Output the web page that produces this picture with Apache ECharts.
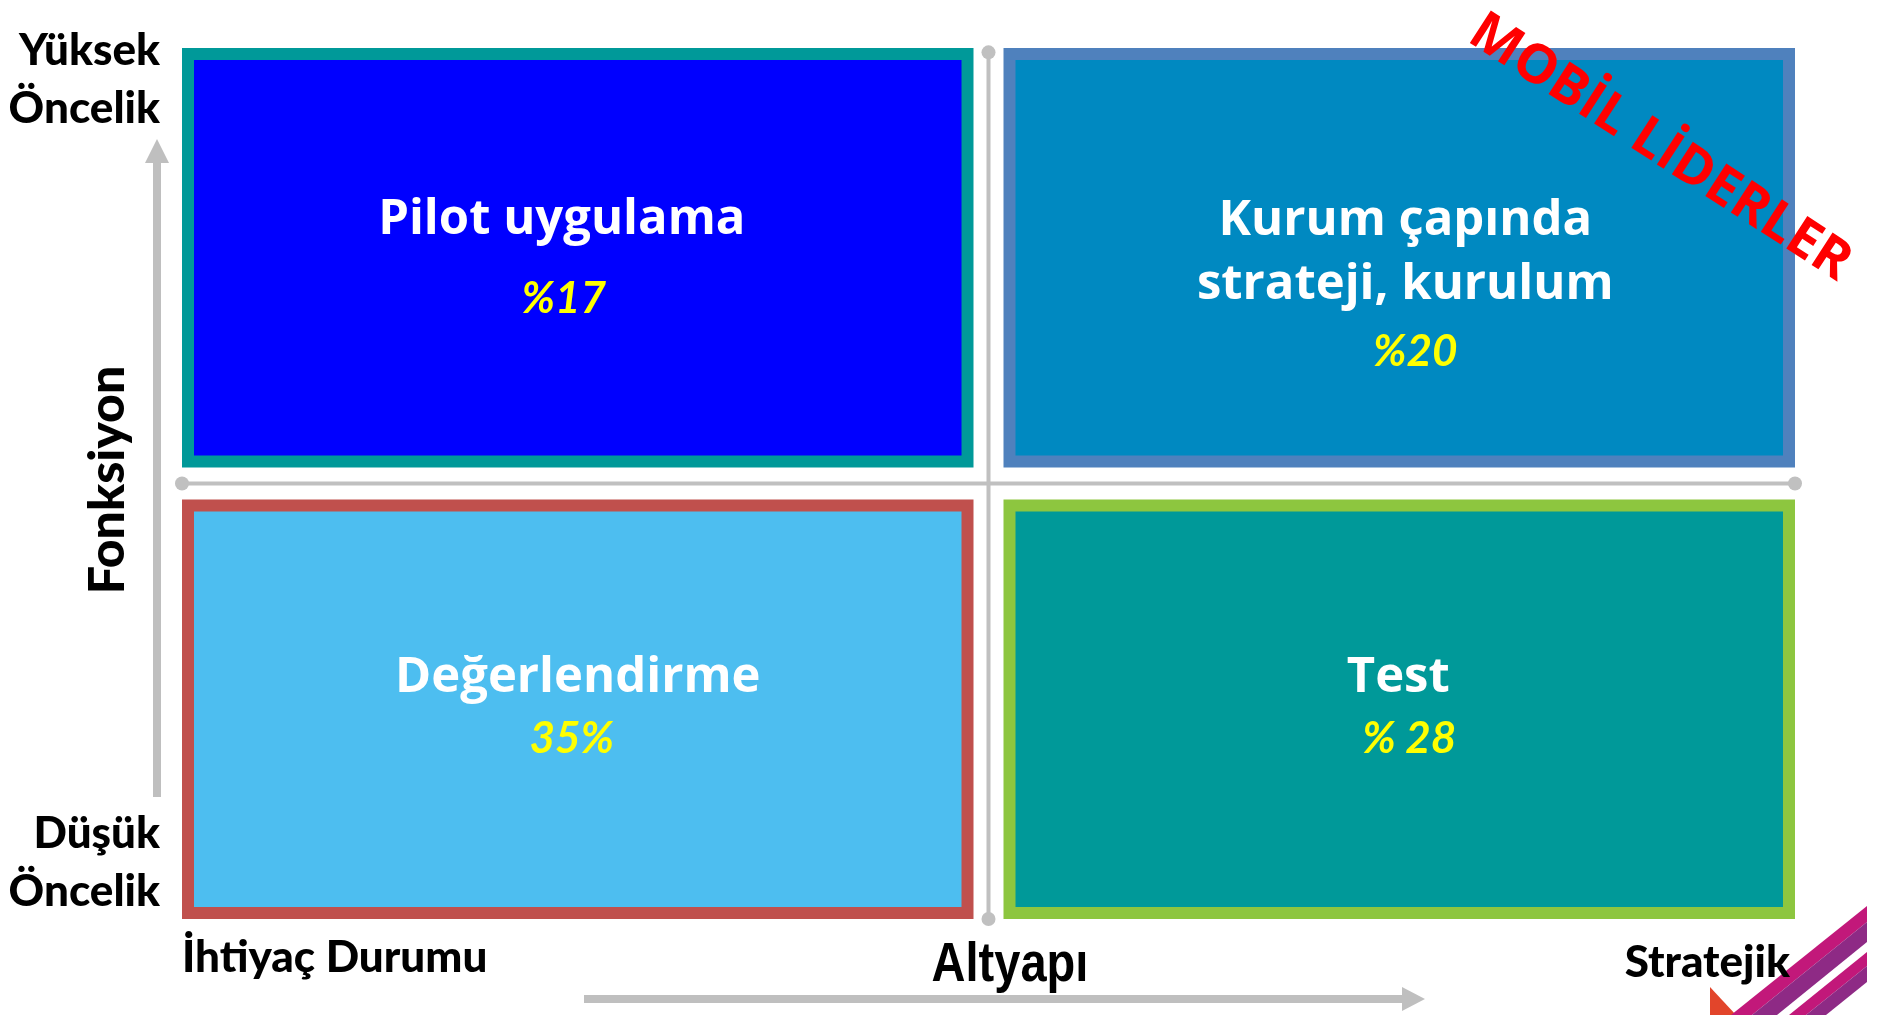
<!DOCTYPE html>
<html>
<head>
<meta charset="utf-8">
<script src="https://cdn.jsdelivr.net/npm/echarts@6/dist/echarts.min.js"></script>
<style>
  html, body { margin: 0; padding: 0; background: #ffffff; }
  #chart { width: 1881px; height: 1015px; }
</style>
</head>
<body>
<div id="chart"></div>
<script>
// ---- data ----
const quadrantNames = ['Pilot uygulama', 'Kurum çapında\nstrateji, kurulum', 'Değerlendirme', 'Test'];
const quadrantPercents = ['%17', '%20', '35%', '% 28'];
const quadrantCol = [0, 1, 0, 1];   // Altyapı cell index
const quadrantRow = [1, 1, 0, 0];   // Fonksiyon cell index
const yTickLabels = ['Düşük\nÖncelik', 'Yüksek\nÖncelik'];
const xTickLabels = ['İhtiyaç Durumu', 'Stratejik'];
const xAxisTitle = 'Altyapı';
const yAxisTitle = 'Fonksiyon';
const watermarkText = 'MOBİL LİDERLER';

// ---- styles / layout ----
const fillColors = ['#0000FF', '#0089C1', '#4DBEF0', '#009999'];
const borderColors = ['#009999', '#4F81BD', '#C0504D', '#8DC63F'];
const titleOffsets = [[-16, -38], [6, -5], [0, -31], [-1, -31]];
const pctOffsets = [[-14, 41], [16, 94], [-6, 30], [10, 30]];
const GAP_X = 15, GAP_Y = 16, BORDER = 12;
const grey = '#C0C0C0';
const arrowGrey = '#BFBFBF';

const cellData = quadrantNames.map((n, i) => [quadrantCol[i], quadrantRow[i], i]);

const chart = echarts.init(document.getElementById('chart'), null, { renderer: 'canvas' });

function renderCell(params, api) {
  const c = api.value(0), r = api.value(1), i = api.value(2);
  const tl = api.coord([c, r + 1]);
  const br = api.coord([c + 1, r]);
  const x0 = tl[0] + (c > 0 ? GAP_X : 0);
  const x1 = br[0] - (c < 1 ? GAP_X : 0);
  const y0 = tl[1] + (r < 1 ? GAP_Y : 0);
  const y1 = br[1] - (r > 0 ? GAP_Y : 0);
  const cx = (x0 + x1) / 2, cy = (y0 + y1) / 2;
  return {
    type: 'group',
    children: [
      { type: 'rect', shape: { x: x0, y: y0, width: x1 - x0, height: y1 - y0 }, style: { fill: borderColors[i] } },
      { type: 'rect', shape: { x: x0 + BORDER, y: y0 + BORDER, width: x1 - x0 - 2 * BORDER, height: y1 - y0 - 2 * BORDER }, style: { fill: fillColors[i] } },
      { type: 'text', style: {
          text: quadrantNames[i], x: cx + titleOffsets[i][0], y: cy + titleOffsets[i][1],
          align: 'center', verticalAlign: 'middle', lineHeight: 64,
          fill: '#ffffff', fontFamily: '"Open Sans", "DejaVu Sans", sans-serif', fontWeight: 'bold', fontSize: 49 } },
      { type: 'text', style: {
          text: quadrantPercents[i], x: cx + pctOffsets[i][0], y: cy + pctOffsets[i][1],
          align: 'center', verticalAlign: 'middle',
          fill: '#FFFF00', fontFamily: 'Lato, "Liberation Sans", sans-serif', fontWeight: 'bold', fontStyle: 'italic', fontSize: 44 } }
    ]
  };
}

const axisLabelFont = { fontFamily: 'Lato, "Liberation Sans", sans-serif', fontWeight: 900, fontSize: 44, fill: '#000000' };

const option = {
  backgroundColor: '#ffffff',
  animation: false,
  grid: { left: 182, top: 48, width: 1613, height: 871 },
  xAxis: { type: 'value', min: 0, max: 2, show: false },
  yAxis: { type: 'value', min: 0, max: 2, show: false },
  series: [
    {
      type: 'line', data: [[0, 1], [2, 1]], symbol: 'circle', symbolSize: 14,
      lineStyle: { color: grey, width: 4 }, itemStyle: { color: grey }, z: 1, silent: true
    },
    {
      type: 'line', data: [[1, 0], [1, 1.99]], symbol: 'circle', symbolSize: 14,
      lineStyle: { color: grey, width: 4 }, itemStyle: { color: grey }, z: 1, silent: true
    },
    {
      type: 'custom', data: cellData, renderItem: renderCell, z: 2,
      encode: { x: 0, y: 1 }
    }
  ],
  graphic: [
    // vertical arrow
    { type: 'rect', shape: { x: 153, y: 160, width: 8, height: 637 }, style: { fill: arrowGrey } },
    { type: 'polygon', shape: { points: [[157, 139], [145, 163], [169, 163]] }, style: { fill: arrowGrey } },
    // horizontal arrow
    { type: 'rect', shape: { x: 584, y: 995, width: 822, height: 8 }, style: { fill: arrowGrey } },
    { type: 'polygon', shape: { points: [[1425, 999], [1402, 987], [1402, 1011]] }, style: { fill: arrowGrey } },
    // y tick labels
    { type: 'text', style: Object.assign({ text: yTickLabels[1], x: 160, y: 80, align: 'right', verticalAlign: 'middle', lineHeight: 58 }, axisLabelFont) },
    { type: 'text', style: Object.assign({ text: yTickLabels[0], x: 160, y: 863, align: 'right', verticalAlign: 'middle', lineHeight: 58 }, axisLabelFont) },
    // x tick labels
    { type: 'text', style: Object.assign({ text: xTickLabels[0], x: 182, y: 958, align: 'left', verticalAlign: 'middle' }, axisLabelFont) },
    { type: 'text', style: Object.assign({ text: xTickLabels[1], x: 1790, y: 963, align: 'right', verticalAlign: 'middle' }, axisLabelFont), z: 10 },
    // axis titles
    { type: 'text', x: 1010, y: 966, scaleX: 0.84,
      style: { text: xAxisTitle, x: 0, y: 0, align: 'center', verticalAlign: 'middle',
        fontFamily: '"Liberation Sans Narrow", "Arial Narrow", "Liberation Sans", sans-serif', fontWeight: 'bold', fontSize: 56, fill: '#000' } },
    { type: 'text', x: 108, y: 480, rotation: Math.PI / 2,
      style: Object.assign({ text: yAxisTitle, x: 0, y: 0, align: 'center', verticalAlign: 'middle' }, axisLabelFont, { fontSize: 50 }) },
    // watermark
    { type: 'text', x: 1660, y: 148, rotation: -33 * Math.PI / 180, z: 20,
      style: { text: watermarkText, x: 0, y: 0, align: 'center', verticalAlign: 'middle',
        fontFamily: '"Open Sans", "DejaVu Sans", sans-serif', fontWeight: 'bold', fontSize: 54, fill: '#FF0000' } },
    // decorative logo (bottom-right)
    { type: 'polygon', z: 5, shape: { points: [[1867, 906], [1867, 922], [1752, 1015], [1731, 1015]] }, style: { fill: '#C2187A' } },
    { type: 'polygon', z: 5, shape: { points: [[1867, 922], [1867, 942], [1777, 1015], [1752, 1015]] }, style: { fill: '#8E2A85' } },
    { type: 'polygon', z: 5, shape: { points: [[1867, 952], [1867, 966], [1806, 1015], [1789, 1015]] }, style: { fill: '#C2187A' } },
    { type: 'polygon', z: 5, shape: { points: [[1867, 966], [1867, 982], [1826, 1015], [1806, 1015]] }, style: { fill: '#8E2A85' } },
    { type: 'polygon', z: 4, shape: { points: [[1710, 987], [1736, 1015], [1710, 1015]] }, style: { fill: '#E2452B' } }
  ]
};
chart.setOption(option);
</script>
</body>
</html>
